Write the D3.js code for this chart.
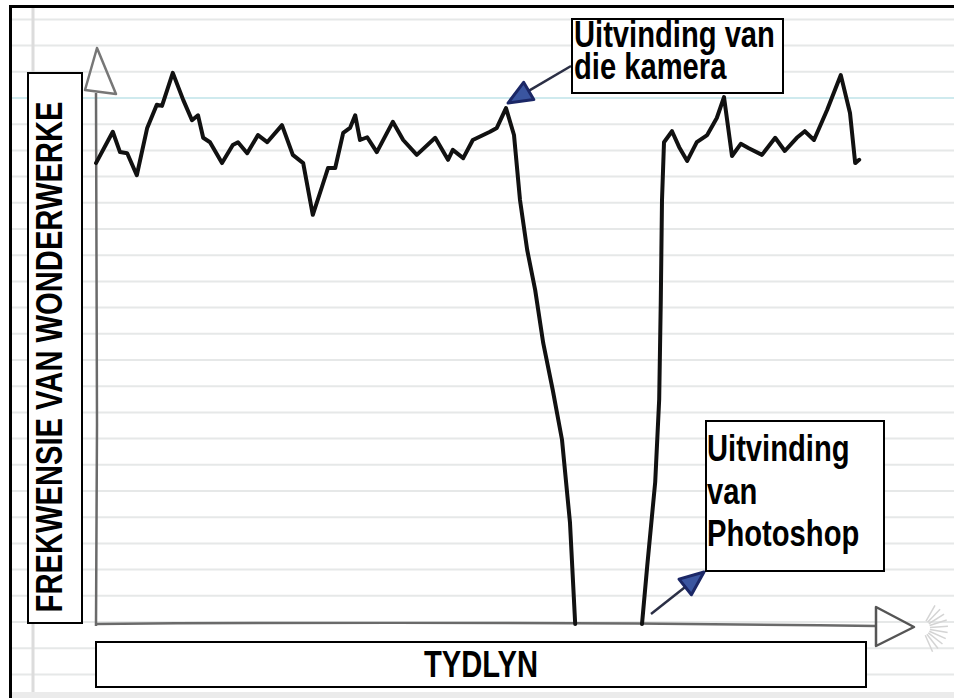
<!DOCTYPE html>
<html>
<head>
<meta charset="utf-8">
<script src="https://cdn.jsdelivr.net/npm/d3@7/dist/d3.min.js"></script>
<style>
  body { margin: 0; background: #fff; }
  svg { display: block; }
  text { font-family: "Liberation Sans", Arial, sans-serif; font-weight: bold; fill: #000; }
</style>
</head>
<body>
<script>
// --- data: time (0-100) vs frequency of wonders (0-100) ---
const tyd = [0, 2.1, 3.0, 3.9, 5.1, 6.4, 7.6, 8.25, 9.6, 10.9, 12.0, 12.75, 13.4, 14.25, 15.75,
  17.1, 17.75, 18.9, 20.25, 21.4, 23.25, 24.6, 25.9, 27.1, 28.25, 29.0, 29.9, 30.9, 31.75, 32.4,
  33.0, 33.9, 35.1, 37.1, 38.4, 40.1, 42.4, 44.0, 44.6, 45.9, 47.1, 49.25, 50.1, 51.25, 52.25,
  53.0, 53.9, 54.9, 55.9, 57.1, 58.25, 59.25, 59.9,
  64,
  68.25, 68.9, 69.9, 70.4, 70.6, 70.75, 71.0, 72.0, 72.9, 73.9, 75.1, 76.4, 77.6, 78.5, 79.5,
  80.6, 81.6, 83.25, 84.9, 86.1, 87.6, 88.6, 89.75, 91.4, 93.1, 94.25, 94.9, 95.4];
const frekwensie = [83.8, 89.5, 85.8, 85.6, 81.6, 90.2, 94.4, 94.2, 100.2, 95.3, 91.6, 92.5, 88.4, 87.6, 83.8,
  87.1, 87.6, 85.6, 88.9, 87.6, 90.7, 85.3, 83.8, 74.4, 79.5, 82.9, 82.9, 89.3, 90.2, 92.5,
  88.0, 88.5, 85.8, 91.3, 88.0, 85.3, 88.4, 84.4, 86.2, 84.7, 88.0, 89.5, 90.2, 93.8, 88.9,
  77.1, 68.0, 60.7, 51.1, 42.5, 33.5, 18.4, 0,
  null,
  0, 10.5, 25.8, 40.9, 58.9, 77.1, 87.6, 89.6, 86.7, 84.2, 87.6, 88.9, 92.0, 95.8, 85.1,
  87.3, 86.5, 85.3, 88.4, 86.0, 88.4, 89.6, 88.0, 93.5, 99.8, 92.9, 83.8, 84.4];

const asTitels = ["FREKWENSIE VAN WONDERWERKE", "TYDLYN"];
const notas = [["Uitvinding van", "die kamera"], ["Uitvinding", "van", "Photoshop"]];
// the points the two notes refer to (time, frequency)
const notaPunte = [[51.25, 93.8], [68.25, 0]];

const W = 954, H = 698;
const condenseFactor = 0.81;   // the lettering in the sketch is narrow

const svg = d3.select("body").append("svg")
    .attr("width", W)
    .attr("height", H);

const x = d3.scaleLinear().domain([0, 100]).range([96, 896]);
const y = d3.scaleLinear().domain([0, 100]).range([624, 74]);

// --- lined paper background ---
svg.append("rect").attr("width", W).attr("height", H).attr("fill", "#fff");
svg.append("rect").attr("x", 12).attr("y", 692).attr("width", W).attr("height", 6).attr("fill", "#ebebeb");
const paper = svg.append("g");
d3.range(-3, 23).forEach(k => {
    const ly = 98 + 26.2 * k;
    if (ly < 10 || ly > 690) return;
    paper.append("line")
        .attr("x1", 12).attr("x2", W)
        .attr("y1", ly).attr("y2", ly)
        .attr("stroke", k === 0 ? "#cfeaee" : "#e6e8e8")
        .attr("stroke-width", 2);
});
paper.append("line")
    .attr("x1", 33).attr("x2", 33).attr("y1", 8).attr("y2", 692)
    .attr("stroke", "#dcdcdc").attr("stroke-width", 3);

// frame
svg.append("line").attr("x1", 10.5).attr("x2", 10.5).attr("y1", 5).attr("y2", H)
    .attr("stroke", "#000").attr("stroke-width", 3);
svg.append("line").attr("x1", 9).attr("x2", W).attr("y1", 6.5).attr("y2", 6.5)
    .attr("stroke", "#000").attr("stroke-width", 3);

// faint scribble behind the x arrow
const burst = svg.append("g").attr("stroke", "#d4d4d4").attr("stroke-width", 1.5);
d3.range(-60, 80, 14).forEach(a => {
    const r = a * Math.PI / 180;
    burst.append("line")
        .attr("x1", 922 + 8 * Math.cos(r)).attr("y1", 628 + 8 * Math.sin(r))
        .attr("x2", 922 + 26 * Math.cos(r)).attr("y2", 628 + 26 * Math.sin(r));
});

// --- hand drawn axes ---
const axisCol = "#6a6a6a";
svg.append("path")
    .attr("d", `M${x(0)},${y(0) + 2} L${x(0) + 1},${y(0) - 200} L${x(0)},93`)
    .attr("fill", "none").attr("stroke", axisCol).attr("stroke-width", 2.5);
svg.append("path")
    .attr("d", "M97,48 L85,90 L116,94 Z")
    .attr("fill", "none").attr("stroke", "#777").attr("stroke-width", 2.5).attr("stroke-linejoin", "round");
svg.append("path")
    .attr("d", `M${x(0)},${y(0)} Q${x(50)},${y(0) - 3} 876,${y(0) + 2}`)
    .attr("fill", "none").attr("stroke", axisCol).attr("stroke-width", 2.5);
svg.append("path")
    .attr("d", "M876,607 L876,646 L914,627 Z")
    .attr("fill", "none").attr("stroke", "#555").attr("stroke-width", 2.5).attr("stroke-linejoin", "round");

// --- the series ---
const data = tyd.map((t, i) => ({ t, v: frekwensie[i] }));
const line = d3.line()
    .defined(d => d.v != null)
    .x(d => x(d.t))
    .y(d => y(d.v));

svg.append("path")
    .datum(data)
    .attr("d", line)
    .attr("fill", "none")
    .attr("stroke", "#111")
    .attr("stroke-width", 4)
    .attr("stroke-linejoin", "round")
    .attr("stroke-linecap", "round");

// squeeze text horizontally like the narrow lettering of the sketch
function condense(sel) {
    sel.each(function () {
        const w = this.getComputedTextLength();
        d3.select(this).attr("textLength", w * condenseFactor).attr("lengthAdjust", "spacingAndGlyphs");
    });
}

// --- axis title boxes ---
svg.append("rect").attr("x", 28).attr("y", 73).attr("width", 54).attr("height", 550)
    .attr("fill", "#fff").attr("stroke", "#000").attr("stroke-width", 2);
svg.append("text")
    .attr("transform", "translate(62,357) rotate(-90)")
    .attr("text-anchor", "middle")
    .style("font-size", "36px")
    .text(asTitels[0])
    .call(condense);

svg.append("rect").attr("x", 96).attr("y", 642).attr("width", 770).attr("height", 45)
    .attr("fill", "#fff").attr("stroke", "#000").attr("stroke-width", 2);
svg.append("text")
    .attr("x", 481).attr("y", 677)
    .attr("text-anchor", "middle")
    .style("font-size", "36px")
    .text(asTitels[1])
    .call(condense);

// --- annotations ---
function arrow(x1, y1, x2, y2) {
    const g = svg.append("g");
    const ang = Math.atan2(y2 - y1, x2 - x1);
    const len = 24, half = 10;
    const bx = x2 - len * Math.cos(ang), by = y2 - len * Math.sin(ang);
    g.append("line")
        .attr("x1", x1).attr("y1", y1).attr("x2", bx).attr("y2", by)
        .attr("stroke", "#2b2f45").attr("stroke-width", 2.5);
    const px = -Math.sin(ang) * half, py = Math.cos(ang) * half;
    g.append("path")
        .attr("d", `M${x2},${y2} L${bx + px},${by + py} L${bx - px},${by - py} Z`)
        .attr("fill", "#3a55a0").attr("stroke", "#1b2766").attr("stroke-width", 3)
        .attr("stroke-linejoin", "round");
}

// camera note
const p1 = notaPunte[0];
arrow(571, 66, x(p1[0]) + 2, y(p1[1]) - 5);
svg.append("rect").attr("x", 572).attr("y", 19).attr("width", 211).attr("height", 74)
    .attr("fill", "#fff").attr("stroke", "#000").attr("stroke-width", 2);
svg.append("g").selectAll("text")
    .data(notas[0])
    .join("text")
    .attr("x", 574)
    .attr("y", (d, i) => 47 + i * 32)
    .style("font-size", "36px")
    .text(d => d)
    .call(condense);

// photoshop note
const p2 = notaPunte[1];
arrow(x(p2[0]) + 9, y(p2[1]) - 10, 704, 572);
svg.append("rect").attr("x", 706).attr("y", 421).attr("width", 178).attr("height", 150)
    .attr("fill", "#fff").attr("stroke", "#000").attr("stroke-width", 2);
svg.append("g").selectAll("text")
    .data(notas[1])
    .join("text")
    .attr("x", 707)
    .attr("y", (d, i) => 461 + i * 42.5)
    .style("font-size", "36px")
    .text(d => d)
    .call(condense);
</script>
</body>
</html>
